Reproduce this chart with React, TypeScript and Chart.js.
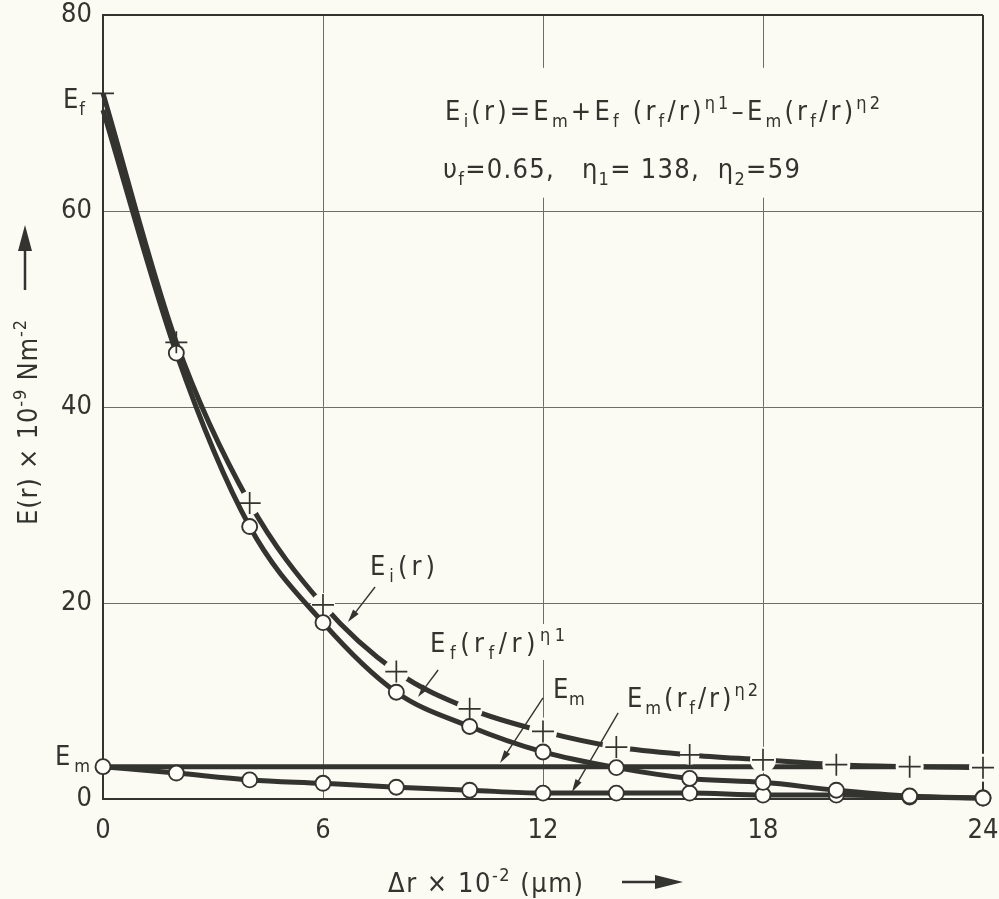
import React, { useEffect, useRef } from 'react';
import { Chart, registerables } from 'chart.js';

Chart.register(...registerables);

// ---- data ----
const xPositions = [0, 2, 4, 6, 8, 10, 12, 14, 16, 18, 20, 22, 24];
const eiSeries = [72.0, 46.6, 30.2, 19.8, 13.0, 9.2, 6.9, 5.3, 4.5, 4.0, 3.5, 3.3, 3.2];
const efSeries = [70.3, 45.5, 27.8, 18.0, 10.9, 7.4, 4.8, 3.2, 2.1, 1.7, 0.9, 0.3, 0.1];
const emSeries = [3.3, 3.3, 3.3, 3.3, 3.3, 3.3, 3.3, 3.3, 3.3, 3.3, 3.3, 3.3, 3.3];
const em2Series = [3.3, 2.65, 1.95, 1.6, 1.2, 0.9, 0.6, 0.6, 0.6, 0.4, 0.4, 0.2, 0.1];
const xTicks = [0, 6, 12, 18, 24];
const yTicks = [0, 20, 40, 60, 80];

type Seg = [string, 'n' | 'b' | 'p'];

const formulaLine1: Seg[] = [
  ['E', 'n'], ['i', 'b'], ['(r)=E', 'n'], ['m', 'b'], ['+E', 'n'], ['f', 'b'],
  [' (r', 'n'], ['f', 'b'], ['/r)', 'n'], ['η1', 'p'], ['–E', 'n'], ['m', 'b'],
  ['(r', 'n'], ['f', 'b'], ['/r)', 'n'], ['η2', 'p'],
];
const formulaLine2: Seg[] = [
  ['υ', 'n'], ['f', 'b'], ['=0.65,   η', 'n'], ['1', 'b'], ['= 138,  η', 'n'], ['2', 'b'], ['=59', 'n'],
];
const labelEfLeft: Seg[] = [['E', 'n'], ['f', 'b']];
const labelEmLeft: Seg[] = [['E', 'n'], ['m', 'b']];
const labelEi: Seg[] = [['E', 'n'], ['i', 'b'], ['(r)', 'n']];
const labelEf: Seg[] = [['E', 'n'], ['f', 'b'], ['(r', 'n'], ['f', 'b'], ['/r)', 'n'], ['η1', 'p']];
const labelEm: Seg[] = [['E', 'n'], ['m', 'b']];
const labelEm2: Seg[] = [['E', 'n'], ['m', 'b'], ['(r', 'n'], ['f', 'b'], ['/r)', 'n'], ['η2', 'p']];
const xTitle: Seg[] = [['Δr × 10', 'n'], ['-2', 'p'], [' (µm)', 'n']];
const yTitle: Seg[] = [['E(r) × 10', 'n'], ['-9', 'p'], [' Nm', 'n'], ['-2', 'p']];

// ---- styling ----
const BG = '#fbfaf3';
const INK = '#33332f';
const GRID = '#6e6e67';
const FONT = '"DejaVu Sans Condensed", "Liberation Sans Narrow", "DejaVu Sans", sans-serif';
const FS = 27;

function pts(series: number[]) {
  return xPositions.map((x, i) => ({ x, y: series[i] }));
}

function segFont(k: string, size: number) {
  return k === 'n' ? size : Math.round(size * 0.68);
}

// measures (draw=false) or draws rich text char by char with extra spacing
function drawRich(ctx: CanvasRenderingContext2D, segs: Seg[], x: number, y: number, size: number, spacing: number, draw: boolean) {
  let cx = x;
  let count = 0;
  for (const [t, k] of segs) {
    ctx.font = `${segFont(k, size)}px ${FONT}`;
    const dy = k === 'b' ? size * 0.27 : k === 'p' ? -size * 0.42 : 0;
    for (const ch of Array.from(t)) {
      if (draw) ctx.fillText(ch, cx, y + dy);
      cx += ctx.measureText(ch).width + spacing;
      count++;
    }
  }
  return { width: cx - x - spacing, count };
}

// draws rich text spread to a given total width
function fitRich(ctx: CanvasRenderingContext2D, segs: Seg[], x: number, y: number, size: number, target: number) {
  const m = drawRich(ctx, segs, x, y, size, 0, false);
  const s = m.count > 1 ? (target - m.width) / (m.count - 1) : 0;
  drawRich(ctx, segs, x, y, size, s, true);
}

function arrow(ctx: CanvasRenderingContext2D, x1: number, y1: number, x2: number, y2: number, len: number, half: number, lw: number) {
  const a = Math.atan2(y2 - y1, x2 - x1);
  const bx = x2 - Math.cos(a) * len;
  const by = y2 - Math.sin(a) * len;
  ctx.lineWidth = lw;
  ctx.beginPath();
  ctx.moveTo(x1, y1);
  ctx.lineTo(bx + Math.cos(a) * 2, by + Math.sin(a) * 2);
  ctx.stroke();
  ctx.beginPath();
  ctx.moveTo(x2, y2);
  ctx.lineTo(bx - Math.sin(a) * half, by + Math.cos(a) * half);
  ctx.lineTo(bx + Math.sin(a) * half, by - Math.cos(a) * half);
  ctx.closePath();
  ctx.fill();
}

const decor = {
  id: 'decor',
  beforeDraw(chart: any) {
    const ctx = chart.ctx as CanvasRenderingContext2D;
    ctx.save();
    ctx.fillStyle = BG;
    ctx.fillRect(0, 0, chart.width, chart.height);
    ctx.restore();
  },
  afterDraw(chart: any) {
    const ctx = chart.ctx as CanvasRenderingContext2D;
    const xs = chart.scales.x;
    const ys = chart.scales.y;
    const px = (v: number) => xs.getPixelForValue(v);
    const py = (v: number) => ys.getPixelForValue(v);
    const area = chart.chartArea;
    ctx.save();
    ctx.textAlign = 'left';
    ctx.textBaseline = 'alphabetic';

    // formula block with its blank background
    const fx = px(9.33);
    const fy1 = py(69.3);
    const fy2 = py(63.4);
    ctx.fillStyle = BG;
    ctx.fillRect(fx - 8, fy1 - 52, 435 + 16, fy2 - fy1 + 72);
    ctx.fillStyle = INK;
    fitRich(ctx, formulaLine1, fx, fy1, FS, 435);
    fitRich(ctx, formulaLine2, px(9.27), fy2, FS, 357);

    // in-plot labels with small blank backgrounds
    const labels: [Seg[], number, number, number][] = [
      [labelEi, 7.28, 22.86, 65],
      [labelEf, 8.92, 15.0, 135],
      [labelEm, 12.27, 10.31, 32],
      [labelEm2, 14.29, 9.39, 131],
    ];
    for (const [segs, lx, ly, w] of labels) {
      const x = px(lx);
      const y = py(ly);
      ctx.fillStyle = BG;
      ctx.fillRect(x - 3, y - 28, w + 6, 36);
      ctx.fillStyle = INK;
      fitRich(ctx, segs, x, y, FS, w);
    }
    fitRich(ctx, labelEfLeft, px(-1.09), py(70.5), FS, 22);
    fitRich(ctx, labelEmLeft, px(-1.31), py(3.47), FS, 35);

    // pointer arrows
    ctx.strokeStyle = INK;
    ctx.fillStyle = INK;
    const arrows: [number, number, number, number][] = [
      [7.42, 21.63, 6.68, 18.06],
      [9.14, 13.16, 8.59, 10.41],
      [12.0, 10.31, 10.83, 3.67],
      [14.05, 8.78, 12.79, 0.71],
    ];
    for (const [a, b, c, d] of arrows) arrow(ctx, px(a), py(b), px(c), py(d), 13, 3.5, 1.4);

    // x axis title and arrow
    const tx = area.left + 285;
    const tyb = area.bottom + 93;
    fitRich(ctx, xTitle, tx, tyb, FS, 195);
    arrow(ctx, area.left + 519, tyb - 10, area.left + 580, tyb - 10, 28, 7, 2.5);

    // y axis title (rotated) and arrow
    ctx.save();
    ctx.translate(area.left - 66, area.top + 510);
    ctx.rotate(-Math.PI / 2);
    fitRich(ctx, yTitle, 0, 0, FS, 205);
    ctx.restore();
    const ax = area.left - 78;
    arrow(ctx, ax, area.top + 275, ax, area.top + 210, 26, 7, 2.5);

    ctx.restore();
  },
};

const haloRadii = [0, 0, 12, 12, 13, 13, 14, 14, 10, 13, 14, 14, 14];

function zeroPadding(s: any) {
  s.paddingLeft = 0;
  s.paddingRight = 0;
  s.paddingTop = 0;
  s.paddingBottom = 0;
}

export default function App() {
  const ref = useRef<HTMLCanvasElement>(null);
  useEffect(() => {
    document.body.style.margin = '0';
    document.body.style.background = BG;
    const chart = new Chart(ref.current as HTMLCanvasElement, {
      type: 'line',
      data: {
        datasets: [
          {
            label: 'Ei markers',
            data: pts(eiSeries),
            showLine: false,
            pointStyle: 'cross',
            pointRadius: 11,
            pointBorderWidth: 1.7,
            pointBorderColor: INK,
            borderColor: INK,
            order: 0,
            clip: false,
          },
          {
            label: 'Ef(rf/r)^n1',
            data: pts(efSeries),
            borderColor: INK,
            borderWidth: 5,
            cubicInterpolationMode: 'monotone',
            pointStyle: 'circle',
            pointRadius: xPositions.map((_, i) => (i === 0 ? 0 : 7.5)),
            pointBorderWidth: 1.9,
            pointBorderColor: INK,
            pointBackgroundColor: '#fffef9',
            order: 1,
            clip: false,
          },
          {
            label: 'Em(rf/r)^n2',
            data: pts(em2Series),
            borderColor: INK,
            borderWidth: 5,
            cubicInterpolationMode: 'monotone',
            pointStyle: 'circle',
            pointRadius: 7.5,
            pointBorderWidth: 1.9,
            pointBorderColor: INK,
            pointBackgroundColor: '#fffef9',
            order: 2,
            clip: false,
          },
          {
            label: 'halo',
            data: pts(eiSeries),
            showLine: false,
            pointStyle: 'circle',
            pointRadius: haloRadii,
            pointBorderWidth: 0,
            pointBackgroundColor: BG,
            pointBorderColor: BG,
            order: 3,
            clip: false,
          },
          {
            label: 'Em',
            data: pts(emSeries),
            borderColor: INK,
            borderWidth: 5,
            pointRadius: 0,
            order: 4,
            clip: false,
          },
          {
            label: 'Ei(r)',
            data: pts(eiSeries),
            borderColor: INK,
            borderWidth: 5,
            cubicInterpolationMode: 'monotone',
            pointRadius: 0,
            order: 5,
            clip: false,
          },
        ],
      },
      options: {
        responsive: false,
        animation: false,
        events: [],
        layout: { padding: { left: 0, right: 16, top: 15, bottom: 0 } },
        plugins: { legend: { display: false }, tooltip: { enabled: false } },
        scales: {
          x: {
            type: 'linear',
            min: 0,
            max: 24,
            afterBuildTicks: (s: any) => { s.ticks = xTicks.map((v) => ({ value: v })); },
            afterFit: (s: any) => { s.height = 100; zeroPadding(s); },
            ticks: { color: INK, font: { family: FONT, size: 27 }, padding: 16, maxRotation: 0 },
            grid: {
              drawTicks: false,
              color: (c: any) => (c.tick && (c.tick.value === 0 || c.tick.value === 24) ? INK : GRID),
              lineWidth: (c: any) => (c.tick && (c.tick.value === 0 || c.tick.value === 24) ? 2 : 1),
            },
            border: { display: true, color: INK, width: 2 },
          },
          y: {
            type: 'linear',
            min: 0,
            max: 80,
            afterBuildTicks: (s: any) => { s.ticks = yTicks.map((v) => ({ value: v })); },
            afterFit: (s: any) => { s.width = 103; zeroPadding(s); },
            ticks: { color: INK, font: { family: FONT, size: 27 }, padding: 11 },
            grid: {
              drawTicks: false,
              color: (c: any) => (c.tick && (c.tick.value === 0 || c.tick.value === 80) ? INK : GRID),
              lineWidth: (c: any) => (c.tick && (c.tick.value === 0 || c.tick.value === 80) ? 2 : 1),
            },
            border: { display: true, color: INK, width: 2 },
          },
        },
      },
      plugins: [decor],
    } as any);
    return () => chart.destroy();
  }, []);
  return <canvas ref={ref} width={999} height={899} style={{ display: 'block', width: 999, height: 899 }} />;
}
